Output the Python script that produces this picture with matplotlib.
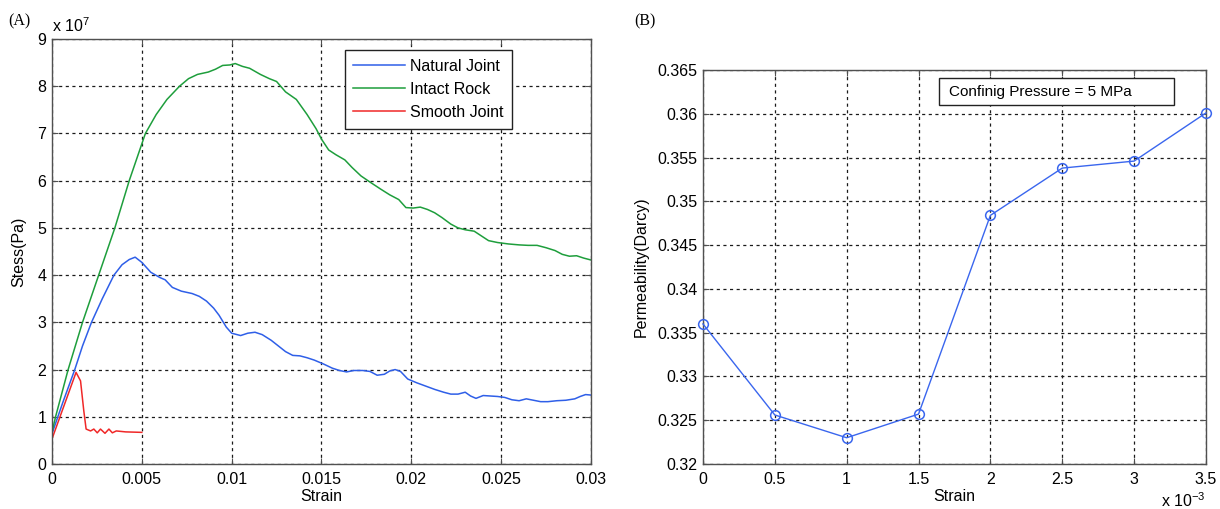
import numpy as np
import matplotlib
matplotlib.use("Agg")
import matplotlib.pyplot as plt
from matplotlib.patches import Rectangle
from matplotlib.ticker import FuncFormatter, MultipleLocator

plt.rcParams['font.family'] = ['Liberation Sans', 'DejaVu Sans']
plt.rcParams['mathtext.fontset'] = 'custom'
plt.rcParams['mathtext.rm'] = 'Liberation Sans'
plt.rcParams['mathtext.it'] = 'Liberation Sans'
plt.rcParams['font.size'] = 11.5

# --- (A) stress-strain curves, stress in units of 1e7 Pa
strain_intact = [0, 0.0002, 0.0009, 0.0017, 0.0026, 0.0035, 0.0043, 0.0052, 0.0058, 0.0064,
                 0.0071, 0.0076, 0.0081, 0.0087, 0.0091, 0.0095, 0.0099, 0.0102, 0.0106, 0.0110,
                 0.0116, 0.0121, 0.0125, 0.0130, 0.0136, 0.0142, 0.0147, 0.0150, 0.0154, 0.0158,
                 0.0163, 0.0167, 0.0172, 0.0177, 0.0183, 0.0188, 0.0193, 0.0197, 0.0201, 0.0205,
                 0.0209, 0.0213, 0.0217, 0.0222, 0.0226, 0.0230, 0.0235, 0.0239, 0.0243, 0.0248,
                 0.0254, 0.0260, 0.0265, 0.0270, 0.0275, 0.0280, 0.0284, 0.0288, 0.0292, 0.0296,
                 0.0300]
stress_intact = [0.67, 1.0, 2.0, 3.0, 4.0, 5.0, 6.0, 7.0, 7.4, 7.72,
                 8.0, 8.16, 8.25, 8.3, 8.36, 8.44, 8.45, 8.48, 8.42, 8.38,
                 8.25, 8.16, 8.1, 7.88, 7.72, 7.4, 7.1, 6.88, 6.65, 6.55,
                 6.44, 6.28, 6.1, 5.97, 5.82, 5.7, 5.6, 5.43, 5.42, 5.44,
                 5.39, 5.32, 5.22, 5.08, 5.0, 4.96, 4.93, 4.83, 4.73, 4.69,
                 4.66, 4.64, 4.63, 4.63, 4.58, 4.52, 4.44, 4.4, 4.41, 4.36,
                 4.32]

strain_natural = [0, 0.0006, 0.00127, 0.0017, 0.0022, 0.0028, 0.00345, 0.0039, 0.0043, 0.00463,
                  0.0050, 0.0055, 0.0060, 0.0063, 0.0067, 0.0072, 0.0078, 0.0082, 0.0086, 0.0090,
                  0.0093, 0.0097, 0.0100, 0.0105, 0.0109, 0.0113, 0.0117, 0.0122, 0.0126, 0.0130,
                  0.0134, 0.0138, 0.0142, 0.0146, 0.0151, 0.0156, 0.0160, 0.0164, 0.0168, 0.0173,
                  0.0177, 0.0181, 0.0185, 0.0188, 0.0191, 0.0194, 0.0198, 0.0203, 0.0208, 0.0213,
                  0.0218, 0.0222, 0.0226, 0.0230, 0.0233, 0.0236, 0.0240, 0.0244, 0.0248, 0.0252,
                  0.0256, 0.0260, 0.0264, 0.0268, 0.0272, 0.0276, 0.0281, 0.0286, 0.0291, 0.0294,
                  0.0297, 0.0300]
stress_natural = [0.64, 1.3, 2.0, 2.5, 3.0, 3.5, 4.0, 4.22, 4.33, 4.38,
                  4.27, 4.06, 3.95, 3.9, 3.74, 3.66, 3.61, 3.55, 3.45, 3.3,
                  3.15, 2.9, 2.77, 2.72, 2.77, 2.79, 2.74, 2.62, 2.5, 2.38,
                  2.3, 2.29, 2.25, 2.2, 2.12, 2.03, 1.98, 1.95, 1.98, 1.98,
                  1.96, 1.88, 1.9, 1.97, 2.0, 1.96, 1.8, 1.72, 1.65, 1.58,
                  1.52, 1.48, 1.48, 1.52, 1.44, 1.39, 1.45, 1.44, 1.43, 1.41,
                  1.36, 1.34, 1.38, 1.35, 1.32, 1.32, 1.34, 1.35, 1.38, 1.43,
                  1.47, 1.46]

strain_smooth = [0, 0.00134, 0.00159, 0.00177, 0.0019, 0.00215, 0.00233, 0.00252, 0.0027,
                 0.00295, 0.00317, 0.00336, 0.00358, 0.0041, 0.005]
stress_smooth = [0.53, 1.94, 1.76, 1.13, 0.74, 0.7, 0.74, 0.66, 0.74,
                 0.65, 0.74, 0.66, 0.7, 0.68, 0.67]

# --- (B) permeability vs strain, strain in units of 1e-3
strain_perm = [0, 0.5, 1.0, 1.5, 2.0, 2.5, 3.0, 3.5]
permeability = [0.3360, 0.3256, 0.3230, 0.3257, 0.3484, 0.3538, 0.3546, 0.3601]

fig = plt.figure(figsize=(12.2, 5.09), dpi=100)
ax1 = fig.add_axes([0.0426, 0.0884, 0.4418, 0.835])
ax2 = fig.add_axes([0.5762, 0.0884, 0.4123, 0.774])

fmt = FuncFormatter(lambda v, p: '%g' % round(v, 6))


def matlab_style(ax):
    ax.grid(True, color='#1a1a1a', linestyle=(0, (2.5, 2.8)), linewidth=0.9)
    ax.set_axisbelow(True)
    for s in ax.spines.values():
        s.set_color('#505050')
        s.set_linewidth(1.0)
    ax.tick_params(direction='in', top=True, right=True, length=4, width=0.8,
                   color='#505050', labelsize=11.5)
    ax.tick_params(axis='x', pad=6)
    ax.tick_params(axis='y', pad=4)
    ax.xaxis.set_major_formatter(fmt)
    ax.yaxis.set_major_formatter(fmt)


ax1.plot(strain_natural, stress_natural, color='#2f5fe8', lw=1.1, label='Natural Joint')
ax1.plot(strain_intact, stress_intact, color='#1e9e3c', lw=1.1, label='Intact Rock')
ax1.plot(strain_smooth, stress_smooth, color='#f02828', lw=1.1, label='Smooth Joint')
ax1.set_xlim(0, 0.03)
ax1.set_ylim(0, 9)
ax1.xaxis.set_major_locator(MultipleLocator(0.005))
ax1.yaxis.set_major_locator(MultipleLocator(1))
matlab_style(ax1)
ax1.set_xlabel('Strain', labelpad=1)
ax1.set_ylabel('Stess(Pa)', labelpad=8)
ax1.text(0, 1.0165, r'x 10$^{7}$', transform=ax1.transAxes, ha='left', va='baseline')
leg = ax1.legend(loc='upper left', bbox_to_anchor=(0.543, 0.974), fancybox=False,
                 edgecolor='#222222', framealpha=1, handlelength=3.2, borderpad=0.55,
                 labelspacing=0.5, handletextpad=0.35, borderaxespad=0)
leg.get_frame().set_linewidth(1.0)

ax2.plot(strain_perm, permeability, color='#3a66ee', lw=1.0, marker='o', ms=7,
         mfc='none', mec='#3a66ee', mew=1.1, clip_on=False, zorder=3)
ax2.set_xlim(0, 3.5)
ax2.set_ylim(0.32, 0.365)
ax2.xaxis.set_major_locator(MultipleLocator(0.5))
ax2.yaxis.set_major_locator(MultipleLocator(0.005))
matlab_style(ax2)
ax2.set_xlabel('Strain', labelpad=1)
ax2.set_ylabel('Permeability(Darcy)', labelpad=6)
ax2.text(1.0, -0.11, r'x 10$^{-3}$', transform=ax2.transAxes, ha='right', va='baseline')

# annotation box with extra room on the right
ax2.add_patch(Rectangle((0.47, 0.91), 0.466, 0.07, transform=ax2.transAxes,
                        fc='white', ec='#222222', lw=1.0, zorder=4))
ax2.text(0.489, 0.945, 'Confinig Pressure = 5 MPa', transform=ax2.transAxes,
         ha='left', va='center', fontsize=11, zorder=5)

fig.text(0.007, 0.957, '(A)', family=['Liberation Serif', 'DejaVu Serif'], fontsize=11.5,
         ha='left', va='center')
fig.text(0.520, 0.957, '(B)', family=['Liberation Serif', 'DejaVu Serif'], fontsize=11.5,
         ha='left', va='center')

fig.savefig('out.png', dpi=100)
